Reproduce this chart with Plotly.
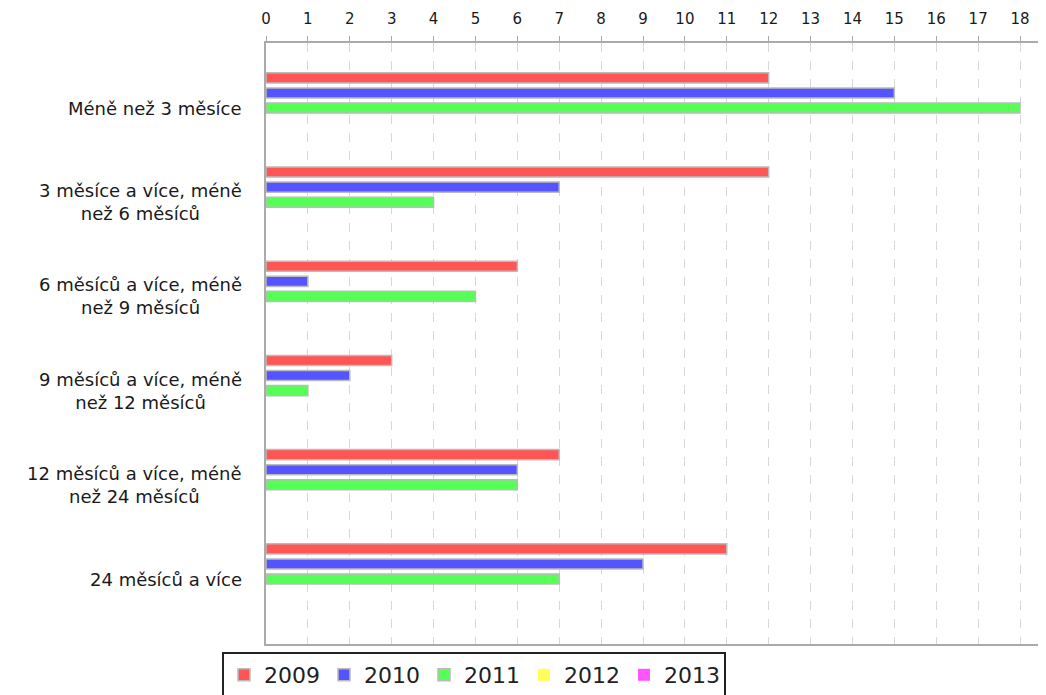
import plotly.graph_objects as go

categories = [
    "Méně než 3 měsíce",
    "3 měsíce a více, méně<br>než 6 měsíců",
    "6 měsíců a více, méně<br>než 9 měsíců",
    "9 měsíců a více, méně<br>než 12 měsíců",
    "12 měsíců a více, méně<br>než 24 měsíců",
    "24 měsíců a více",
]
series_names = ["2009", "2010", "2011", "2012", "2013"]
v2009 = [12, 12, 6, 3, 7, 11]
v2010 = [15, 7, 1, 2, 6, 9]
v2011 = [18, 4, 5, 1, 6, 7]
v2012 = [0, 0, 0, 0, 0, 0]
v2013 = [0, 0, 0, 0, 0, 0]
values = [v2009, v2010, v2011, v2012, v2013]
colors = ["#FF5555", "#5555FF", "#55FF55", "#FFFF55", "#FF55FF"]
x_ticks = list(range(0, 19))

# page body adds an 8px offset, so the figure is sized/placed to compensate
W, H = 1038, 687
L, R, T, B = 258, 0, 35, 51
pw = W - L - R
ph = H - T - B

fig = go.Figure()
for name, vals, col in zip(series_names, values, colors):
    nonzero = any(v != 0 for v in vals)
    fig.add_trace(go.Bar(
        y=categories, x=vals, name=name, orientation="h",
        marker=dict(color=col,
                    line=dict(color="#bbbbbb", width=1.5 if nonzero else 0)),
    ))

for cat in categories:
    fig.add_annotation(
        x=(244 - 266) / pw, xref="paper", y=cat, yref="y",
        text=cat, showarrow=False, xanchor="right", align="center",
        font=dict(family="DejaVu Sans", size=18, color="#1a1a1a"),
    )

fig.update_layout(
    width=W, height=H,
    margin=dict(l=L, r=R, t=T, b=B, autoexpand=False),
    paper_bgcolor="white", plot_bgcolor="white",
    barmode="group", bargap=0.2, bargroupgap=0.33,
    font=dict(family="DejaVu Sans", size=15, color="#222222"),
    showlegend=True,
    legend=dict(
        orientation="h", x=(222 - 266) / pw, xanchor="left",
        y=-8 / ph, yanchor="top",
        bordercolor="#222222", borderwidth=2, bgcolor="white",
        font=dict(family="DejaVu Sans", size=22, color="#222222"),
        entrywidth=55, entrywidthmode="pixels",
        itemclick=False,
    ),
    xaxis=dict(
        side="top", range=[0, 18.62], tickmode="array", tickvals=x_ticks,
        showgrid=True, gridcolor="#d8d8d8", griddash="dash", gridwidth=1,
        showline=True, linecolor="#aaaaaa", linewidth=2, mirror=True,
        ticks="outside", ticklen=5, tickcolor="#aaaaaa",
        ticklabelstandoff=6,
        tickfont=dict(family="DejaVu Sans", size=15, color="#1a1a1a"),
        zeroline=False,
    ),
    yaxis=dict(
        range=[5.69, -0.69], showticklabels=False,
        showline=True, linecolor="#aaaaaa", linewidth=2,
        showgrid=False, zeroline=False, ticks="",
    ),
)

fig.write_html("out.html")
